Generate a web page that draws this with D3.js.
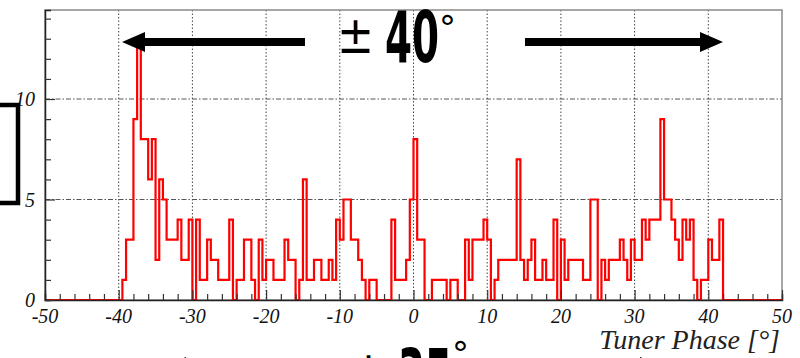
<!DOCTYPE html>
<html>
<head>
<meta charset="utf-8">
<script src="https://cdn.jsdelivr.net/npm/d3@7"></script>
<style>
  body { margin: 0; background: #fff; }
  .tick-label { font-family: "Liberation Serif", serif; font-style: italic; font-size: 20px; fill: #111; }
</style>
</head>
<body>
<div id="chart"></div>
<script>
// Histogram data: 0.5 degree bins starting at -40
var binStart = -40;
var binWidth = 0.5;
var counts = [
  0, 1, 3, 3, 9, 13, 8, 8, 6, 8,      // -40 .. -35.5
  2, 6, 5, 3, 3, 3, 4, 2, 2, 4,       // -35 .. -30.5
  0, 4, 1, 1, 3, 2, 2, 1, 1, 1,       // -30 .. -25.5
  4, 0, 1, 1, 3, 3, 1, 0, 3, 1,       // -25 .. -20.5
  2, 2, 1, 1, 1, 3, 2, 2, 0, 1,       // -20 .. -15.5
  6, 1, 1, 2, 2, 1, 1, 2, 1, 4,       // -15 .. -10.5
  3, 5, 5, 3, 3, 2, 1, 0, 1, 1,       // -10 .. -5.5
  0, 0, 0, 0, 4, 1, 1, 1, 2, 5,       // -5 .. -0.5
  8, 3, 3, 0, 0, 1, 1, 1, 1, 0,       // 0 .. 4.5
  1, 1, 0, 0, 3, 1, 3, 3, 3, 4,       // 5 .. 9.5
  3, 0, 1, 2, 2, 2, 2, 2, 7, 2,       // 10 .. 14.5
  1, 2, 3, 1, 1, 2, 1, 1, 4, 0,       // 15 .. 19.5
  3, 1, 2, 2, 2, 2, 1, 1, 5, 5,       // 20 .. 24.5
  0, 2, 1, 2, 2, 2, 3, 2, 1, 3,       // 25 .. 29.5
  2, 2, 4, 3, 4, 4, 4, 9, 5, 5,       // 30 .. 34.5
  4, 3, 2, 4, 3, 4, 1, 0, 1, 1,       // 35 .. 39.5
  3, 2, 2, 4                          // 40 .. 41.5
];
var xTicks = [-50, -40, -30, -20, -10, 0, 10, 20, 30, 40, 50];
var yTicks = [0, 5, 10];
var xTitle = "Tuner Phase [°]";

var svgWidth = 800;
var svgHeight = 358;
var plot = { left: 45, right: 782, top: 10, bottom: 300 };

var svg = d3.select("#chart")
  .append("svg")
  .attr("width", svgWidth)
  .attr("height", svgHeight);

var xScale = d3.scaleLinear().domain([-50, 50]).range([plot.left, plot.right]);
var yScale = d3.scaleLinear().domain([0, 14.43]).range([plot.bottom, plot.top]);

// grid
var grid = svg.append("g");
grid.selectAll("line.vg")
  .data(xTicks.filter(d => d > -50 && d < 50))
  .enter().append("line")
  .attr("x1", d => xScale(d)).attr("x2", d => xScale(d))
  .attr("y1", plot.top).attr("y2", plot.bottom)
  .attr("stroke", "#444").attr("stroke-width", 1)
  .attr("stroke-dasharray", "1.5,2");
grid.selectAll("line.hg")
  .data(yTicks.filter(d => d > 0))
  .enter().append("line")
  .attr("x1", plot.left).attr("x2", plot.right)
  .attr("y1", d => yScale(d)).attr("y2", d => yScale(d))
  .attr("stroke", "#555").attr("stroke-width", 1)
  .attr("stroke-dasharray", "5,2,1.5,2");

// frame
svg.append("rect")
  .attr("x", plot.left).attr("y", plot.top)
  .attr("width", plot.right - plot.left).attr("height", plot.bottom - plot.top)
  .attr("fill", "none").attr("stroke", "#8a8a8a").attr("stroke-width", 1.5);

// histogram as a step line
var pts = [[-50, 0], [binStart, 0]];
counts.forEach((c, i) => {
  var x0 = binStart + i * binWidth;
  pts.push([x0, c]);
  pts.push([x0 + binWidth, c]);
});
pts.push([binStart + counts.length * binWidth, 0]);
pts.push([50, 0]);

var line = d3.line().x(d => xScale(d[0])).y(d => yScale(d[1]));
svg.append("path")
  .datum(pts)
  .attr("d", line)
  .attr("fill", "none")
  .attr("stroke", "#ff0000")
  .attr("stroke-width", 2.2);

// axes
var bottomAxis = d3.axisTop(xScale)
  .tickValues(d3.range(-50, 51, 2))
  .tickSize(6).tickFormat("");
var bottomG = svg.append("g")
  .attr("transform", `translate(0, ${plot.bottom})`)
  .call(bottomAxis);
var leftAxis = d3.axisRight(yScale)
  .tickValues(d3.range(0, 15, 1))
  .tickSize(6).tickFormat("");
var leftG = svg.append("g")
  .attr("transform", `translate(${plot.left}, 0)`)
  .call(leftAxis);
[bottomG, leftG].forEach(g => {
  g.select(".domain").attr("stroke", "#222").attr("stroke-width", 1.5);
  g.selectAll(".tick line").attr("stroke", "#333").attr("stroke-width", 1.2);
});
bottomG.selectAll(".tick line").filter(d => d % 10 === 0).attr("y2", -10);
leftG.selectAll(".tick line").filter(d => d % 5 === 0).attr("x2", 10);

// tick labels
svg.selectAll("text.xl")
  .data(xTicks)
  .enter().append("text")
  .attr("class", "tick-label")
  .attr("x", d => xScale(d))
  .attr("y", 323)
  .attr("text-anchor", "middle")
  .text(d => d);
svg.selectAll("text.yl")
  .data(yTicks)
  .enter().append("text")
  .attr("class", "tick-label")
  .attr("x", 35)
  .attr("y", d => yScale(d))
  .attr("dy", "0.35em")
  .attr("text-anchor", "end")
  .text(d => d);

svg.append("text")
  .attr("x", 780).attr("y", 349)
  .attr("text-anchor", "end")
  .style("font-family", "Liberation Serif, serif")
  .style("font-style", "italic")
  .style("font-size", "28px")
  .attr("fill", "#222")
  .text(xTitle);

// annotation: bracket on the left
svg.append("path")
  .attr("d", "M0,105 L18,105 L18,203 L0,203")
  .attr("fill", "none").attr("stroke", "#000").attr("stroke-width", 4.5);

// annotation: double arrow with label
function arrowLabel(o) {
  var g = svg.append("g");
  var yc = o.arrowY;
  g.append("line").attr("x1", o.xl + 20).attr("x2", o.lineEndL)
    .attr("y1", yc).attr("y2", yc).attr("stroke", "#000").attr("stroke-width", 8);
  g.append("polygon")
    .attr("points", `${o.xl},${yc} ${o.xl + 23},${yc - 10} ${o.xl + 23},${yc + 10}`)
    .attr("fill", "#000");
  g.append("line").attr("x1", o.lineStartR).attr("x2", o.xr - 20)
    .attr("y1", yc).attr("y2", yc).attr("stroke", "#000").attr("stroke-width", 8);
  g.append("polygon")
    .attr("points", `${o.xr},${yc} ${o.xr - 23},${yc - 10} ${o.xr - 23},${yc + 10}`)
    .attr("fill", "#000");
  g.append("text")
    .attr("transform", `translate(${o.textLeft}, ${o.pmY}) scale(0.85,1)`)
    .style("font-family", "DejaVu Sans, sans-serif")
    .style("font-size", "52px")
    .attr("fill", "#000")
    .text("±");
  g.append("text")
    .attr("transform", `translate(${o.textLeft + 48}, ${o.numY}) scale(0.6,1)`)
    .style("font-family", "DejaVu Sans Condensed, DejaVu Sans, sans-serif")
    .style("font-weight", "bold")
    .style("font-size", "72px")
    .attr("fill", "#000")
    .text(o.label);
  g.append("text")
    .attr("x", o.textLeft + 102).attr("y", o.degY)
    .style("font-family", "DejaVu Sans, sans-serif")
    .style("font-size", "34px")
    .attr("fill", "#000")
    .text("°");
}
arrowLabel({ arrowY: 42, xl: 122, xr: 723, textLeft: 337, label: "40",
  lineEndL: 305, lineStartR: 525, pmY: 53, numY: 62, degY: 40 });
arrowLabel({ arrowY: 367, xl: 163, xr: 663, textLeft: 350, label: "35",
  lineEndL: 330, lineStartR: 500, pmY: 388, numY: 400, degY: 366 });
</script>
</body>
</html>
